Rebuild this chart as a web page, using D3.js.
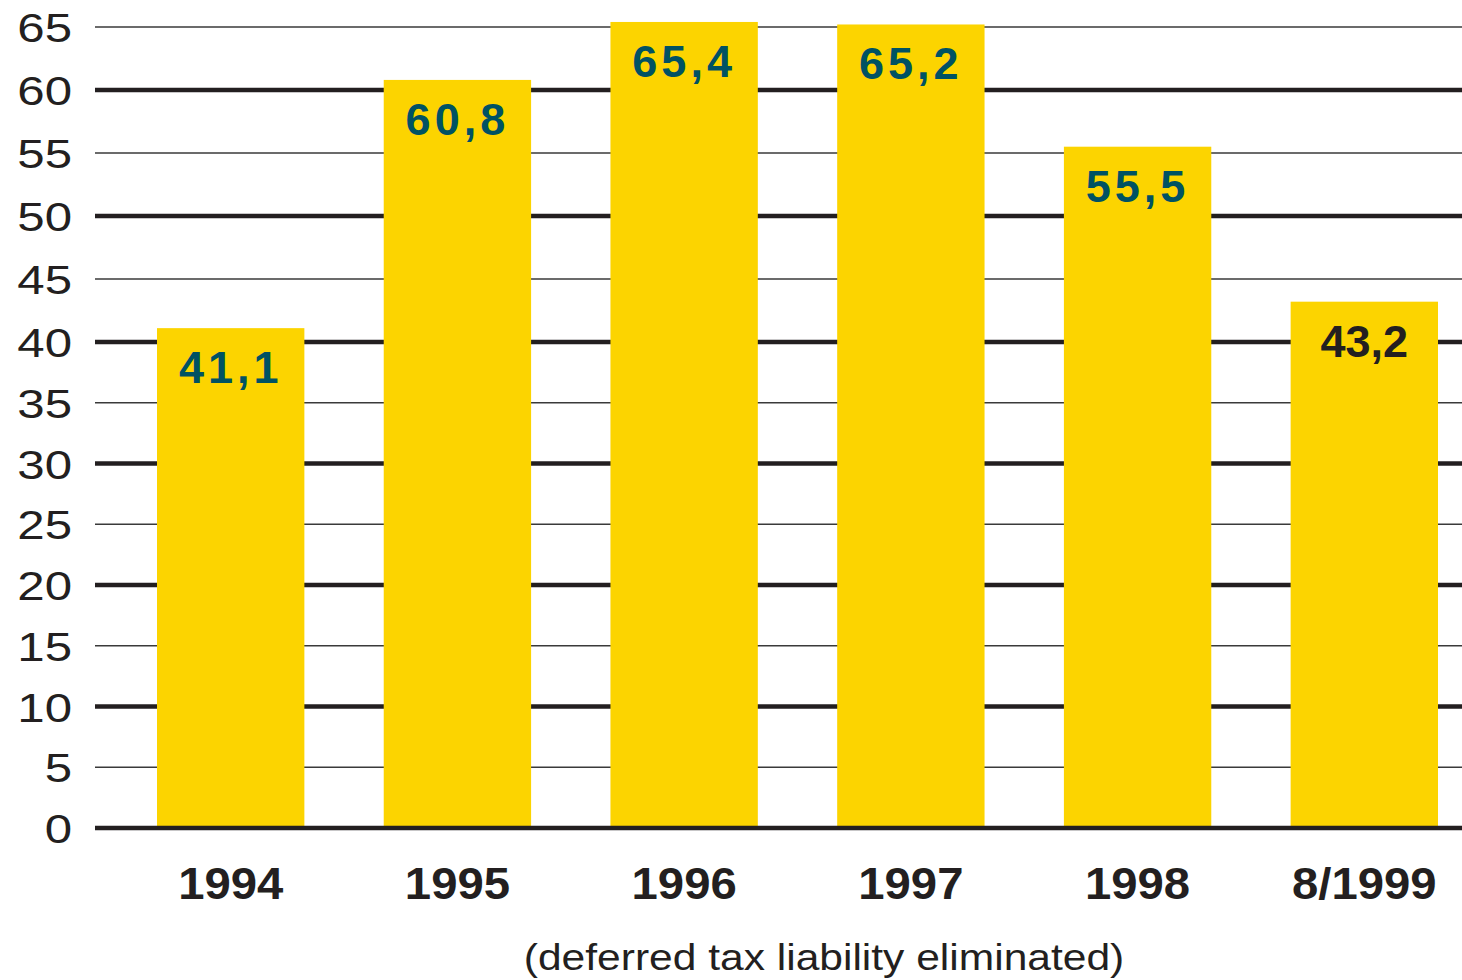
<!DOCTYPE html>
<html>
<head>
<meta charset="utf-8">
<script src="https://cdn.jsdelivr.net/npm/d3@7"></script>
<style>
html,body{margin:0;padding:0;background:#fff;}
svg{display:block;}
</style>
</head>
<body>
<svg id="chart" width="1462" height="980"></svg>
<script>
const categories = ["1994","1995","1996","1997","1998","8/1999"];
const values = [41.1, 60.8, 65.4, 65.2, 55.5, 43.2];
const valueLabels = ["41,1","60,8","65,4","65,2","55,5","43,2"];
const yTicks = [0,5,10,15,20,25,30,35,40,45,50,55,60,65];
const subtitle = "(deferred tax liability eliminated)";

const svg = d3.select("#chart");
const font = "'Liberation Sans', Arial, Helvetica, sans-serif";
// the original's value axis is slightly uneven: polylinear scale
const y = d3.scaleLinear().domain([0,40,65]).range([828,342,27]);
const x = d3.scaleBand().domain(categories).range([157,1438]).paddingInner(0.35).paddingOuter(0);

// gridlines
svg.append("g").selectAll("line").data(yTicks.filter(d=>d!==0)).join("line")
  .attr("x1",95).attr("x2",1462)
  .attr("y1",d=>y(d)).attr("y2",d=>y(d))
  .attr("stroke", d=> d%10===0 ? "#231F20" : "#3a3a3a")
  .attr("stroke-width", d=> d%10===0 ? 4.5 : 1.4);

// y tick labels
svg.append("g").selectAll("g").data(yTicks).join("g")
  .attr("transform",d=>`translate(72,${y(d)+15})`)
  .append("text")
  .attr("transform","scale(1.2,1)")
  .attr("text-anchor","end")
  .attr("font-family",font).attr("font-size",41)
  .attr("fill","#231F20")
  .text(d=>d);

// bars
svg.append("g").selectAll("rect").data(values).join("rect")
  .attr("x",(d,i)=>x(categories[i]))
  .attr("width",x.bandwidth())
  .attr("y",d=>y(d))
  .attr("height",d=>y(0)-y(d)+2)
  .attr("fill","#FCD400");

// baseline
svg.append("line").attr("x1",95).attr("x2",1462)
  .attr("y1",y(0)).attr("y2",y(0))
  .attr("stroke","#231F20").attr("stroke-width",4.5);

// value labels
svg.append("g").selectAll("g").data(values).join("g")
  .attr("transform",(d,i)=>`translate(${x(categories[i])+x.bandwidth()/2},${y(d)+55})`)
  .append("text")
  .attr("text-anchor","middle")
  .attr("font-family",font).attr("font-weight","bold").attr("font-size",45)
  .attr("letter-spacing",(d,i)=> i<5 ? 4 : 0)
  .attr("fill",(d,i)=> i<5 ? "#005263" : "#231F20")
  .text((d,i)=>valueLabels[i]);

// x labels
svg.append("g").selectAll("g").data(categories).join("g")
  .attr("transform",d=>`translate(${x(d)+x.bandwidth()/2},899)`)
  .append("text")
  .attr("transform","scale(1.05,1)")
  .attr("text-anchor","middle")
  .attr("font-family",font).attr("font-weight","bold").attr("font-size",45)
  .attr("fill","#231F20")
  .text(d=>d);

// subtitle
svg.append("g").attr("transform","translate(824,970)")
  .append("text")
  .attr("transform","scale(1.15,1)")
  .attr("text-anchor","middle")
  .attr("font-family",font).attr("font-size",37)
  .attr("fill","#231F20")
  .text(subtitle);
</script>
</body>
</html>
